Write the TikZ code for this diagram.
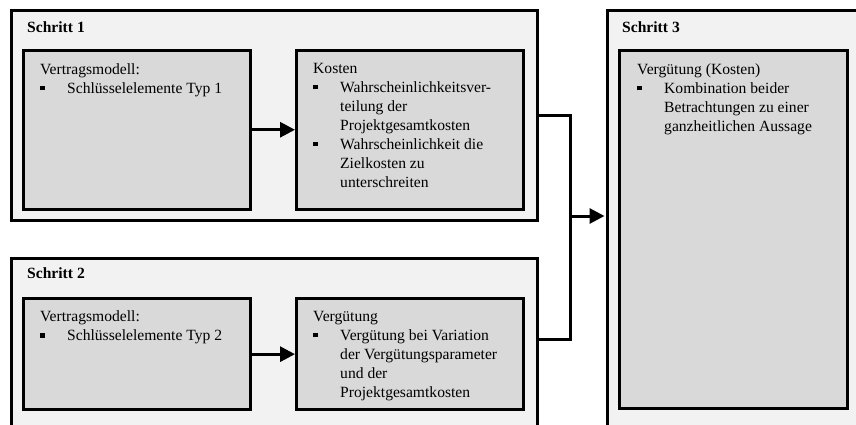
\documentclass[tikz,border=0pt]{standalone}
\usepackage{fontspec}
\setmainfont{Liberation Serif}
\usetikzlibrary{arrows.meta,positioning}
\definecolor{stlight}{RGB}{242,242,242}
\definecolor{stmid}{RGB}{217,217,217}
\newcommand{\stfont}{\fontsize{15.6pt}{19pt}\selectfont}
\newcommand{\stpkt}{\makebox[27pt][l]{\rule[2.7pt]{4.5pt}{4.5pt}}}
\newcommand{\stein}{\hspace*{27pt}}
\tikzset{
  stouter/.style={draw=black, line width=3pt, fill=stlight, anchor=north west, inner sep=0pt},
  stinner/.style={draw=black, line width=3pt, fill=stmid, anchor=north west, inner sep=0pt, minimum width=227pt},
  sttitle/.style={anchor=base west, inner sep=0pt, font=\stfont\bfseries},
  sttext/.style={anchor=base west, inner sep=0pt, font=\stfont},
  starr/.style={-{Triangle[length=15pt,width=15pt]}, line width=3pt},
  stline/.style={line width=3pt}
}

\begin{document}
\begin{tikzpicture}[x=1pt, y=-1pt]
  \useasboundingbox (0,0) rectangle (856,424);
  \clip (0,0) rectangle (856,424);
  % the three steps
  \node[stouter, minimum width=526.5pt, minimum height=210pt] (s1) at (9.5,8.5) {};
  \node[stouter, minimum width=526.5pt, minimum height=171pt] (s2) at (9.5,256.5) {};
  \node[stouter, minimum width=270pt, minimum height=430pt] (s3) at (606,8.5) {};
  \node[sttitle] (t1) at (27,32) {Schritt 1};
  \node[sttitle] (t2) at (27,278) {Schritt 2};
  \node[sttitle] (t3) at (622,32) {Schritt 3};
  % inner boxes
  \node[stinner, minimum height=158.5pt] (a1) at (22,49) {};
  \node[stinner, minimum height=158.5pt, right=43pt of a1] (b1) {};
  \node[stinner, minimum height=110.7pt] (a2) at (22,297.3) {};
  \node[stinner, minimum height=110.7pt, right=43pt of a2] (b2) {};
  \node[stinner, minimum width=228pt, minimum height=358pt] (c) at (618,49) {};
  % box texts
  \node[sttext] (ta1) at (40,74) {\begin{tabular}[t]{@{}l@{}}
    Vertragsmodell:\\
    \stpkt Schlüsselelemente Typ 1
  \end{tabular}};
  \node[sttext] (tb1) at (313,73) {\begin{tabular}[t]{@{}l@{}}
    Kosten\\
    \stpkt Wahrscheinlichkeitsver-\\
    \stein teilung der\\
    \stein Projektgesamtkosten\\
    \stpkt Wahrscheinlichkeit die\\
    \stein Zielkosten zu\\
    \stein unterschreiten
  \end{tabular}};
  \node[sttext] (ta2) at (40,321.5) {\begin{tabular}[t]{@{}l@{}}
    Vertragsmodell:\\
    \stpkt Schlüsselelemente Typ 2
  \end{tabular}};
  \node[sttext] (tb2) at (313,321) {\begin{tabular}[t]{@{}l@{}}
    Vergütung\\
    \stpkt Vergütung bei Variation\\
    \stein der Vergütungsparameter\\
    \stein und der\\
    \stein Projektgesamtkosten
  \end{tabular}};
  \node[sttext] (tc) at (637,74) {\begin{tabular}[t]{@{}l@{}}
    Vergütung (Kosten)\\
    \stpkt Kombination beider\\
    \stein Betrachtungen zu einer\\
    \stein ganzheitlichen Aussage
  \end{tabular}};
  % arrows
  \draw[starr] (a1) -- (b1);
  \draw[starr] (a2) -- (b2);
  \coordinate (sammel) at (570,216);
  \draw[stline] (s1.east) -| (sammel);
  \draw[stline] ([yshift=4pt]s2.east) -| (sammel);
  \draw[starr, shorten >=1.5pt] (sammel) -- (sammel -| s3.west);
\end{tikzpicture}
\end{document}
